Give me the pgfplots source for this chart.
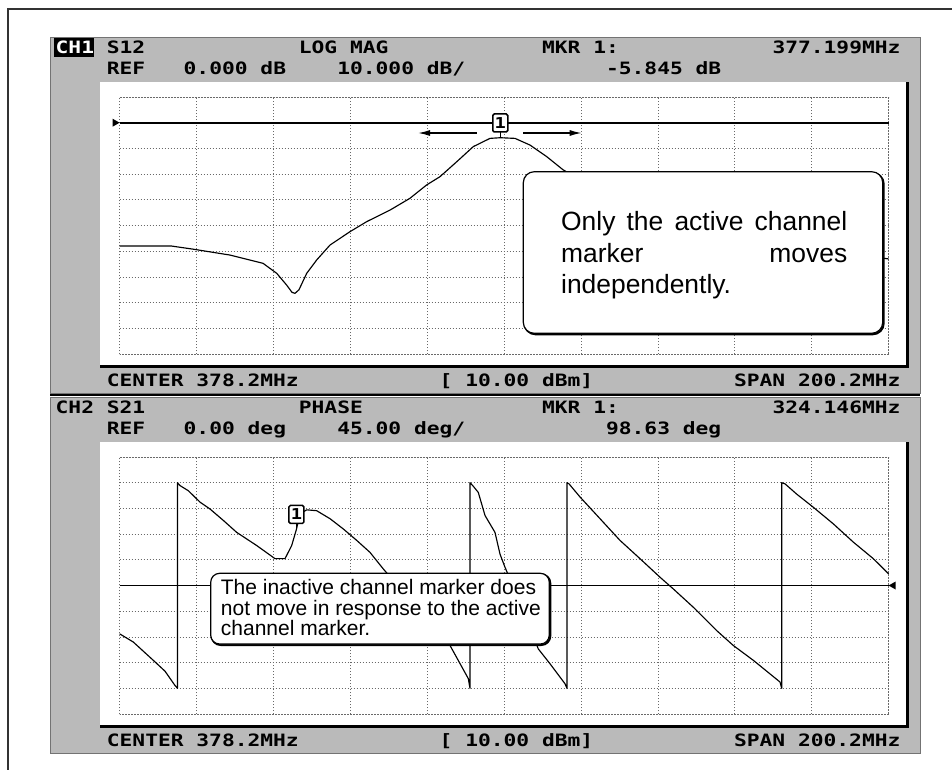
\documentclass[border=0pt]{standalone}
\usepackage{pgfplots}
\pgfplotsset{compat=1.18}
\usepackage{fontspec}
\usetikzlibrary{arrows.meta}
\setmainfont{Liberation Sans}
\newfontfamily\lcdfam{DejaVu Sans Mono}[FakeStretch=1.25]
\newcommand\lcd{\lcdfam\bfseries\fontsize{17}{20}\selectfont}
\definecolor{panel}{RGB}{186,186,186}
\definecolor{griddot}{RGB}{105,105,105}

\pgfplotsset{
  crt/.style={
    scale only axis, width=769pt, height=257pt, anchor=south west,
    xmin=278.1, xmax=478.3,
    xtick={278.1,298.12,318.14,338.16,358.18,378.2,398.22,418.24,438.26,458.28,478.3},
    xticklabels={}, yticklabels={},
    major tick length=0pt,
    grid=major,
    grid style={griddot, line width=0.7pt, dash pattern=on 0.7pt off 2.3pt},
    axis line style={griddot, line width=0.7pt, dash pattern=on 0.7pt off 2.3pt},
    clip=false,
  },
  trace/.style={black, line width=1.15pt, line join=round, mark=none},
  refline/.style={black, line width=1.7pt, mark=none},
}
\tikzset{
  lcdt/.style={anchor=base west, inner sep=0pt, font=\lcd},
  mk/.style={draw, fill=white, line width=1.5pt, rounded corners=1.5pt, inner sep=0pt,
    minimum width=15pt, minimum height=18pt, anchor=south,
    font=\lcdfam\bfseries\fontsize{15}{15}\selectfont},
}

\begin{document}
\begin{tikzpicture}
\useasboundingbox (0,0) rectangle (952pt,-769pt);
\begin{scope}[x=1pt,y=-1pt]
  \draw[black!80, line width=1.2pt] (8,9) rectangle (980,800);
  % instrument panels
  \fill[panel] (50,37) rectangle (920,393);
  \fill[panel] (50,397) rectangle (920,753);
  \draw[black!55, line width=0.7pt] (50,37) rectangle (920,393);
  \draw[black!55, line width=0.7pt] (50,397) rectangle (920,753);
  \draw[black, line width=2.4pt] (50,395) -- (920,395);
  % screens
  \fill[white] (100,82) rectangle (906,365);
  \draw[black, line width=2.6pt] (907.3,82) -- (907.3,366.3) -- (100,366.3);
  \fill[white] (100,442) rectangle (906,725);
  \draw[black, line width=2.6pt] (907.3,442) -- (907.3,726.3) -- (100,726.3);
\end{scope}

% CH1: S12 log magnitude
\begin{axis}[crt, at={(119.6pt,-354pt)}, ymin=-90, ymax=10, ytick={-90,-80,...,10}]
  \addplot[refline] coordinates {(278.1,0) (478.3,0)};
  \addplot[trace] coordinates {
    (278.10,-48.0)(291.66,-48.0)(297.21,-49.2)(306.84,-51.5)(315.43,-54.7)
    (319.00,-58.6)(321.60,-63.2)(322.98,-66.0)(323.76,-66.4)(324.80,-65.0)
    (326.81,-58.6)(329.41,-53.4)(332.88,-47.6)(338.08,-42.4)(342.43,-38.5)
    (348.50,-34.0)(353.70,-29.4)(358.05,-24.2)(361.51,-21.0)(365.86,-15.2)
    (370.18,-9.3)(374.53,-6.1)(377.199,-5.845)(381.04,-6.1)(384.94,-8.7)
    (389.29,-13.2)(393.61,-18.4)(403.17,-26)(416.18,-33)(429.20,-39)
    (447.42,-45)(463.04,-50)(478.3,-53)};
  \fill (axis cs:278.1,0) -- ++(-7pt,4pt) -- ++(0pt,-8pt) -- cycle;
  \draw[line width=1.2pt] (axis cs:377.199,-5.845) ++(0pt,1pt) -- ++(0pt,5pt);
  \node[mk] at ([yshift=5pt]axis cs:377.199,-5.845) {1};
\end{axis}

% CH2: S21 phase
\begin{axis}[crt, at={(119.6pt,-714pt)}, ymin=-225, ymax=225, ytick={-225,-180,...,225}]
  \addplot[refline] coordinates {(278.1,0) (478.3,0)};
  \addplot[trace] coordinates {
    (278.10,-84.6)(281.67,-99)(286.87,-131)(289.92,-150)(292.52,-175)(293.17,-180)
    (293.17,180)(293.82,175)(295.99,166)(299.03,146)(301.63,134)(305.10,114)
    (308.59,93)(313.79,70)(318.56,47)(321.16,47)(322.90,70)(324.146,98.63)
    (325.06,125.5)(326.81,132.5)(329.41,131)(332.88,117)(336.34,99)(339.83,79)
    (343.29,58)(346.75,29)(351.10,-5)(356.31,-40)(361.51,-78)(364.12,-105)
    (368.88,-163)(369.32,-180)
    (369.32,180)(370.03,175)(371.48,163)(373.23,122.6)(375.83,93)(377.13,55)
    (378.43,32)(382.34,-30)(384.94,-75)(387.10,-111)(390.15,-137)(394.05,-172)
    (394.57,-180)
    (394.57,180)(395.10,178)(397.96,155)(403.17,117)(408.37,79)(413.58,47)
    (418.79,14.5)(422.25,-6)(427.45,-38)(433.55,-79)(437.87,-105)(443.08,-131)
    (450.03,-169)(450.47,-180)
    (450.47,180)(451.33,178)(454.38,160)(458.70,137)(463.90,108)(469.11,76)
    (474.32,47)(478.3,20.5)};
  \fill (axis cs:478.3,0) -- ++(7pt,4pt) -- ++(0pt,-8pt) -- cycle;
  \draw[line width=1.2pt] (axis cs:324.146,98.63) ++(0pt,1pt) -- ++(0pt,5pt);
  \node[mk] at ([yshift=5pt]axis cs:324.146,98.63) {1};
\end{axis}

\begin{scope}[x=1pt,y=-1pt]
  % marker movement arrows
  \draw[line width=1.4pt, -{Latex[length=12pt,width=6pt]}] (476.7,133) -- (418,133);
  \draw[line width=1.4pt, -{Latex[length=12pt,width=6pt]}] (523,133) -- (581.7,133);
  % callouts
  \draw[line width=2pt, rounded corners=11pt] (524.5,173) rectangle (883.7,334.3);
  \draw[fill=white, line width=1.2pt, rounded corners=11pt] (523.3,171.7) rectangle (882.7,333.3);
  \node[anchor=base west, inner sep=0pt, font=\fontsize{26.4}{32}\selectfont] at (561,230)
    {\makebox[286pt][s]{Only the active channel}};
  \node[anchor=base west, inner sep=0pt, font=\fontsize{26.4}{32}\selectfont] at (561,262.3)
    {\makebox[286pt][s]{marker moves}};
  \node[anchor=base west, inner sep=0pt, font=\fontsize{26.4}{32}\selectfont] at (561,293.3)
    {independently.};
  \draw[line width=2pt, rounded corners=9pt] (211.7,574.3) rectangle (550.3,645);
  \draw[fill=white, line width=1.2pt, rounded corners=9pt] (210.7,573.3) rectangle (549.3,644);
  \node[anchor=base west, inner sep=0pt, font=\fontsize{21}{20.5}\selectfont] at (220.7,594)
    {The inactive channel marker does};
  \node[anchor=base west, inner sep=0pt, font=\fontsize{21}{20.5}\selectfont] at (220.7,615)
    {not move in response to the active};
  \node[anchor=base west, inner sep=0pt, font=\fontsize{21}{20.5}\selectfont] at (220.7,635)
    {channel marker.};

  % CH1 annotation lines
  \fill[black] (53.5,38) rectangle (93.5,56.5);
  \node[lcdt, text=white] at (55.5,53) {CH1};
  \node[lcdt] at (106.7,53) {S12};
  \node[lcdt] at (298.7,53) {LOG MAG};
  \node[lcdt] at (541.9,53) {MKR 1:};
  \node[lcdt] at (772.3,53) {377.199MHz};
  \node[lcdt] at (106.7,74) {REF};
  \node[lcdt] at (183.5,74) {0.000 dB};
  \node[lcdt] at (337.1,74) {10.000 dB/};
  \node[lcdt] at (605.9,74) {-5.845 dB};
  \node[lcdt] at (106.7,386) {CENTER 378.2MHz};
  \node[lcdt] at (439.5,386) {[ 10.00 dBm]};
  \node[lcdt] at (733.9,386) {SPAN 200.2MHz};

  % CH2 annotation lines
  \node[lcdt] at (55.5,413) {CH2};
  \node[lcdt] at (106.7,413) {S21};
  \node[lcdt] at (298.7,413) {PHASE};
  \node[lcdt] at (541.9,413) {MKR 1:};
  \node[lcdt] at (772.3,413) {324.146MHz};
  \node[lcdt] at (106.7,434) {REF};
  \node[lcdt] at (183.5,434) {0.00 deg};
  \node[lcdt] at (337.1,434) {45.00 deg/};
  \node[lcdt] at (605.9,434) {98.63 deg};
  \node[lcdt] at (106.7,746) {CENTER 378.2MHz};
  \node[lcdt] at (439.5,746) {[ 10.00 dBm]};
  \node[lcdt] at (733.9,746) {SPAN 200.2MHz};
\end{scope}
\end{tikzpicture}
\end{document}
